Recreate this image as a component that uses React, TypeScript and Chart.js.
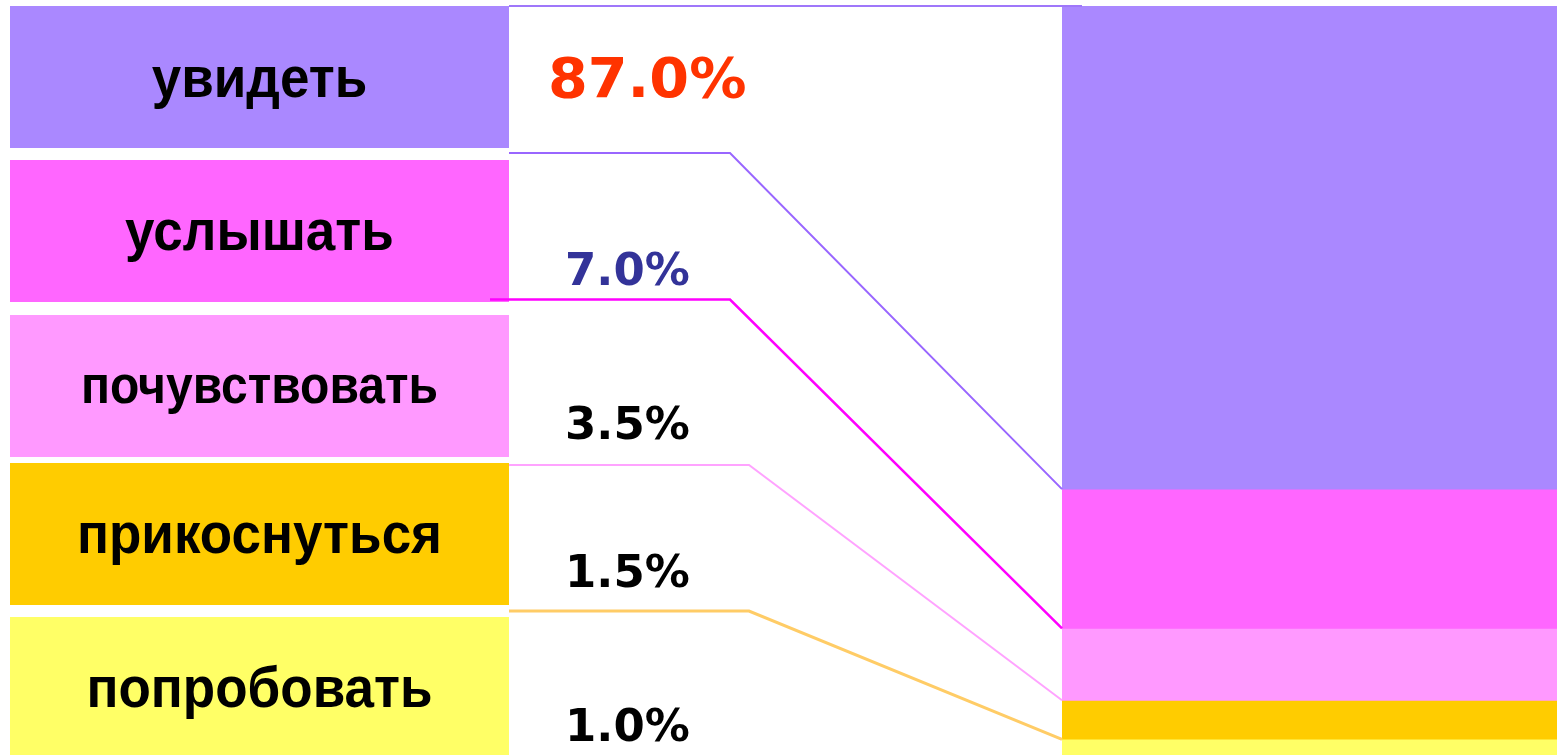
import React, { useEffect, useRef } from 'react';
import { Chart, registerables } from 'chart.js';

Chart.register(...registerables);

// ---- data ----
const CATEGORIES = ['увидеть', 'услышать', 'почувствовать', 'прикоснуться', 'попробовать'];
const PERCENTS = [87.0, 7.0, 3.5, 1.5, 1.0];
// shares of the stacked bar as drawn on the right
const BAR_SHARES = [64.5, 18.6, 9.6, 5.2, 2.1];

// ---- styles ----
const FILL_COLORS = ['#aa88ff', '#ff66ff', '#ff99ff', '#ffcc00', '#ffff66'];
const LINE_COLORS = ['#9966ff', '#ff00ff', '#ffa3ff', '#ffcc66'];
const PCT_COLORS = ['#ff3300', '#333399', '#000000', '#000000', '#000000'];

// ---- layout ----
const W = 1557;
const H = 755;
const BAR_LEFT = 1062;
const BAR_TOP = 6;
const BOX_LEFT = 10;
const BOX_RIGHT = 509;
const BOX_TOPS = [6, 160, 315, 463, 617];
const BOX_BOTTOMS = [148, 302, 457, 605, 755];
const LABEL_BASELINES = [97, 250, 403, 553, 707];
const LABEL_SIZES = [57, 57, 53, 57, 57];
const LABEL_XSCALE = [0.93, 0.93, 0.906, 0.93, 0.93];
const PCT_X = [548, 565, 565, 565, 565];
const PCT_BASELINES = [97, 285, 439, 587, 741];
const PCT_SIZES = [55, 45, 45, 45, 45];
const PCT_XSCALE = [1.04, 1.0, 1.0, 1.0, 1.0];
const LINE_START_X = [509, 490, 509, 509];
const LINE_Y = [153, 299.5, 465, 611];
const LINE_BEND_X = [730, 730, 749, 749];
const LINE_WIDTHS = [2, 2.5, 2, 3];

function drawScaledText(
  ctx: CanvasRenderingContext2D,
  text: string,
  x: number,
  y: number,
  sx: number,
  align: CanvasTextAlign
) {
  ctx.save();
  ctx.translate(x, y);
  ctx.scale(sx, 1);
  ctx.textAlign = align;
  ctx.textBaseline = 'alphabetic';
  ctx.fillText(text, 0, 0);
  ctx.restore();
}

const overlayPlugin = {
  id: 'overlay',
  beforeDatasetsDraw(chart: any) {
    const ctx = chart.ctx as CanvasRenderingContext2D;
    ctx.save();
    CATEGORIES.forEach((c, i) => {
      ctx.fillStyle = FILL_COLORS[i];
      ctx.fillRect(BOX_LEFT, BOX_TOPS[i], BOX_RIGHT - BOX_LEFT, BOX_BOTTOMS[i] - BOX_TOPS[i]);
      ctx.fillStyle = '#000000';
      ctx.font = `bold ${LABEL_SIZES[i]}px "Liberation Sans", Arial, sans-serif`;
      drawScaledText(ctx, c, (BOX_LEFT + BOX_RIGHT) / 2, LABEL_BASELINES[i], LABEL_XSCALE[i], 'center');
    });
    ctx.restore();
  },
  afterDatasetsDraw(chart: any) {
    const ctx = chart.ctx as CanvasRenderingContext2D;
    const yScale = chart.scales.y;
    const left = chart.chartArea.left;
    ctx.save();
    // connector lines
    let cum = 0;
    LINE_Y.forEach((ly, i) => {
      cum += BAR_SHARES[i];
      const yEnd = yScale.getPixelForValue(cum);
      ctx.beginPath();
      ctx.strokeStyle = LINE_COLORS[i];
      ctx.lineWidth = LINE_WIDTHS[i];
      ctx.moveTo(LINE_START_X[i], ly);
      ctx.lineTo(LINE_BEND_X[i], ly);
      ctx.lineTo(left, yEnd);
      ctx.stroke();
    });
    // top line
    ctx.beginPath();
    ctx.strokeStyle = '#9f77fa';
    ctx.lineWidth = 2;
    ctx.moveTo(BOX_RIGHT, BAR_TOP);
    ctx.lineTo(1082, BAR_TOP);
    ctx.stroke();
    // percentage labels
    PERCENTS.forEach((p, i) => {
      ctx.fillStyle = PCT_COLORS[i];
      ctx.font = `bold ${PCT_SIZES[i]}px "DejaVu Sans", Verdana, sans-serif`;
      drawScaledText(ctx, p.toFixed(1) + '%', PCT_X[i], PCT_BASELINES[i], PCT_XSCALE[i], 'left');
    });
    ctx.restore();
  },
};

export default function App() {
  const ref = useRef<HTMLCanvasElement | null>(null);
  useEffect(() => {
    const prevMargin = document.body.style.margin;
    document.body.style.margin = '0';
    const canvas = ref.current;
    if (!canvas) return;
    const chart = new Chart(canvas, {
      type: 'bar',
      data: {
        labels: ['share'],
        datasets: CATEGORIES.map((c, i) => ({
          label: c,
          data: [BAR_SHARES[i]],
          backgroundColor: FILL_COLORS[i],
          borderWidth: 0,
          barPercentage: 1,
          categoryPercentage: 1,
        })),
      },
      options: {
        responsive: false,
        animation: false,
        devicePixelRatio: 1,
        layout: { padding: { left: BAR_LEFT, top: BAR_TOP, right: 0, bottom: 0 } },
        plugins: {
          legend: { display: false },
          tooltip: { enabled: false },
        },
        scales: {
          x: { display: false, stacked: true },
          y: { display: false, stacked: true, min: 0, max: 100, reverse: true },
        },
      },
      plugins: [overlayPlugin],
    });
    return () => {
      chart.destroy();
      document.body.style.margin = prevMargin;
    };
  }, []);
  return (
    <canvas
      ref={ref}
      width={W}
      height={H}
      style={{ position: 'fixed', left: 0, top: 0, width: W, height: H, background: '#ffffff' }}
    />
  );
}
